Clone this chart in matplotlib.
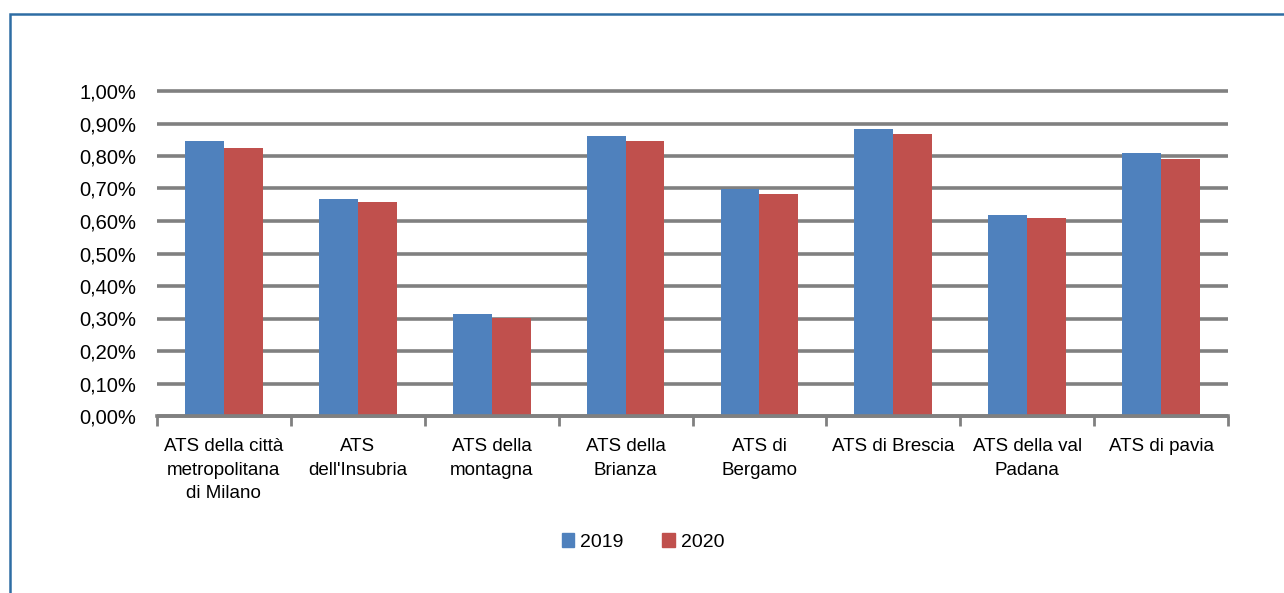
import numpy as np
import matplotlib.pyplot as plt
from matplotlib.patches import Rectangle, Patch
from matplotlib.ticker import FuncFormatter

categories = ["ATS della città\nmetropolitana\ndi Milano", "ATS\ndell'Insubria", "ATS della\nmontagna",
              "ATS della\nBrianza", "ATS di\nBergamo", "ATS di Brescia", "ATS della val\nPadana", "ATS di pavia"]
values_2019 = [0.846, 0.668, 0.313, 0.862, 0.699, 0.883, 0.619, 0.808]
values_2020 = [0.825, 0.657, 0.302, 0.846, 0.684, 0.868, 0.609, 0.792]
years = ["2019", "2020"]
colors = ["#4F81BD", "#C0504D"]

plt.rcParams['font.family'] = ['Liberation Sans', 'DejaVu Sans']

fig = plt.figure(figsize=(12.84, 5.93), dpi=100)
ax = fig.add_axes([157 / 1284, 1 - 416 / 593, (1228 - 157) / 1284, (416 - 91) / 593])

x = np.arange(len(categories))
w = 0.29
ax.bar(x - w / 2, values_2019, w, color=colors[0], zorder=3)
ax.bar(x + w / 2, values_2020, w, color=colors[1], zorder=3)

ax.set_xlim(-0.5, len(categories) - 0.5)
ax.set_ylim(0, 1.0)
ax.set_yticks(np.arange(0, 1.01, 0.1))
ax.yaxis.set_major_formatter(FuncFormatter(lambda v, p: ("%.2f%%" % v).replace(".", ",")))
ax.grid(axis="y", color="#808080", linewidth=2.6, zorder=0)
for gl in ax.get_ygridlines():
    gl.set_clip_on(False)
    gl.set_solid_capstyle("butt")
ax.tick_params(axis="y", length=0, pad=15, labelsize=14.5, colors="#000000")

ax.set_xticks(np.arange(-0.5, len(categories), 1.0))
ax.set_xticklabels([])
ax.set_xticks(x, minor=True)
ax.set_xticklabels(categories, minor=True, fontsize=13.5, linespacing=1.5, va="top")
ax.tick_params(axis="x", which="major", length=7, width=2, color="#808080")
ax.tick_params(axis="x", which="minor", length=0, pad=16)

for s in ["left", "right", "top"]:
    ax.spines[s].set_visible(False)
ax.spines["bottom"].set_color("#808080")
ax.spines["bottom"].set_linewidth(2.6)
ax.spines["bottom"].set_zorder(4)

handles = [Patch(color=c) for c in colors]
fig.legend(handles, years, loc="center", bbox_to_anchor=(643 / 1284, 1 - 542 / 593), ncol=2,
           frameon=False, fontsize=14, handlelength=0.65, handleheight=0.7, handletextpad=0.3, columnspacing=2.0)

fig.patches.append(Rectangle((10 / 1284, -0.1), 1.2, 1.1 - 14 / 593, transform=fig.transFigure,
                             fill=False, edgecolor="#2E6DA4", linewidth=1.8))

fig.savefig("out.png", dpi=100)
